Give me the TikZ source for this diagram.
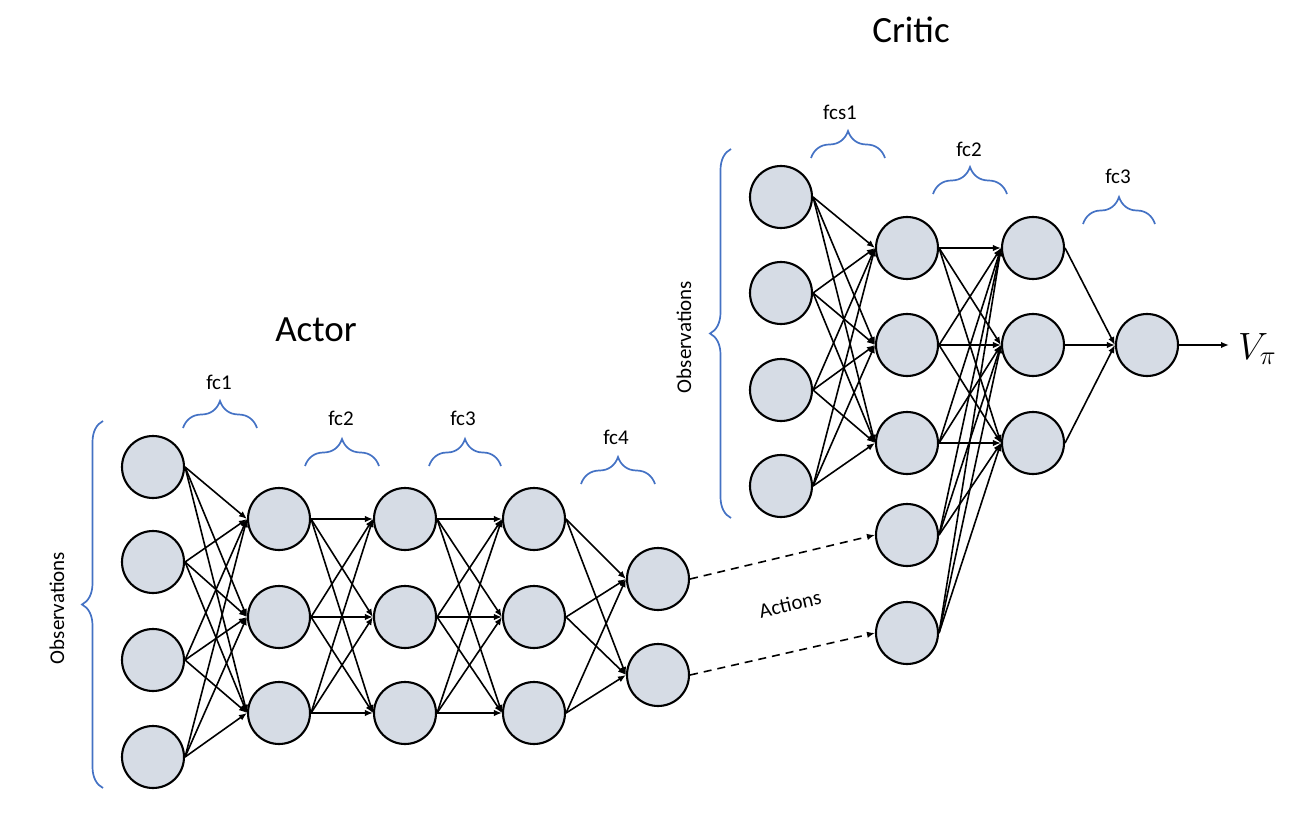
\documentclass[tikz,border=0pt]{standalone}
\usepackage{fix-cm}
\usepackage{fontspec}
\setmainfont{Carlito}
\usetikzlibrary{arrows.meta,decorations.pathreplacing}
\definecolor{nfill}{HTML}{D6DCE5}
\definecolor{bblue}{HTML}{4472C4}
\tikzset{
  neuron/.style={circle, draw=black, line width=2.1pt, fill=nfill, minimum size=62pt, inner sep=0pt},
  conn/.style={line width=1.6pt, -{Latex[length=8pt,width=6.5pt]}},
  dconn/.style={line width=1.6pt, dash pattern=on 8pt off 6pt, -{Latex[length=8pt,width=6.5pt]}},
  lbl/.style={font=\fontsize{21}{25}\selectfont, inner sep=0pt},
  ttl/.style={font=\fontsize{37}{44}\selectfont, inner sep=0pt},
  hbrace/.style={draw=bblue, line width=1.7pt, decorate, decoration={brace, amplitude=27pt}},
  vbrace/.style={draw=bblue, line width=1.7pt, decorate, decoration={brace, amplitude=21pt}},
}
\begin{document}
\begin{tikzpicture}[x=1pt,y=-1pt]
\useasboundingbox (0,0) rectangle (1304,826);
% Actor nodes
\foreach \i/\y in {1/467,2/562,3/660,4/757} \node[neuron] (a1-\i) at (153,\y) {};
\foreach \i/\y in {1/519,2/617,3/713} {
  \node[neuron] (a2-\i) at (279,\y) {};
  \node[neuron] (a3-\i) at (405,\y) {};
  \node[neuron] (a4-\i) at (534,\y) {};
}
\foreach \i/\y in {1/579,2/675} \node[neuron] (a5-\i) at (658,\y) {};
% Critic nodes
\foreach \i/\y in {1/197,2/293,3/390,4/486} \node[neuron] (c1-\i) at (781,\y) {};
\foreach \i/\y in {1/248,2/345,3/443} {
  \node[neuron] (c2-\i) at (907,\y) {};
  \node[neuron] (c3-\i) at (1033,\y) {};
}
\foreach \i/\y in {1/535,2/633} \node[neuron] (act-\i) at (907,\y) {};
\node[neuron] (out) at (1147,345) {};
\node[anchor=west, inner sep=0pt, font=\fontsize{38}{44}\selectfont] (V) at (1238,349) {$V_\pi$};
% Actor connections
\foreach \s in {1,2,3,4} \foreach \t in {1,2,3} \draw[conn] (a1-\s.east) -- (a2-\t.west);
\foreach \s in {1,2,3} \foreach \t in {1,2,3} {
  \draw[conn] (a2-\s.east) -- (a3-\t.west);
  \draw[conn] (a3-\s.east) -- (a4-\t.west);
}
\foreach \s in {1,2,3} \foreach \t in {1,2} \draw[conn] (a4-\s.east) -- (a5-\t.west);
% Critic connections
\foreach \s in {1,2,3,4} \foreach \t in {1,2,3} \draw[conn] (c1-\s.east) -- (c2-\t.west);
\foreach \s in {1,2,3} \foreach \t in {1,2,3} \draw[conn] (c2-\s.east) -- (c3-\t.west);
\foreach \s in {1,2} \foreach \t in {1,2,3} \draw[conn] (act-\s.east) -- (c3-\t.west);
\foreach \s in {1,2,3} \draw[conn] (c3-\s.east) -- (out.west);
\draw[conn] (out.east) -- (1229,345);
% Actions
\draw[dconn] (a5-1.east) -- (act-1.west);
\draw[dconn] (a5-2.east) -- (act-2.west);
\node[lbl, rotate=13] (actlbl) at (790,604) {Actions};
% Braces
\draw[hbrace] (183,428) -- (257,428);
\draw[hbrace] (305,466) -- (379,466);
\draw[hbrace] (429,466) -- (501,466);
\draw[hbrace] (581,484) -- (655,484);
\draw[hbrace] (811,158) -- (885,158);
\draw[hbrace] (933,194) -- (1007,194);
\draw[hbrace] (1083,224) -- (1155,224);
\draw[vbrace] (103,788) -- (103,421);
\draw[vbrace] (731,518) -- (731,149);
% Labels
\node[lbl] (l1) at (219,382) {fc1};
\node[lbl] (l2) at (341,418) {fc2};
\node[lbl] (l3) at (463,418) {fc3};
\node[lbl] (l4) at (616,437) {fc4};
\node[lbl] (l5) at (840,112) {fcs1};
\node[lbl] (l6) at (969,149) {fc2};
\node[lbl] (l7) at (1118,176) {fc3};
\node[lbl, rotate=90] (obsA) at (57,608) {Observations};
\node[lbl, rotate=90] (obsC) at (684,337) {Observations};
\node[ttl] (actor) at (316,330) {Actor};
\node[ttl] (critic) at (911,30) {Critic};
\end{tikzpicture}
\end{document}
